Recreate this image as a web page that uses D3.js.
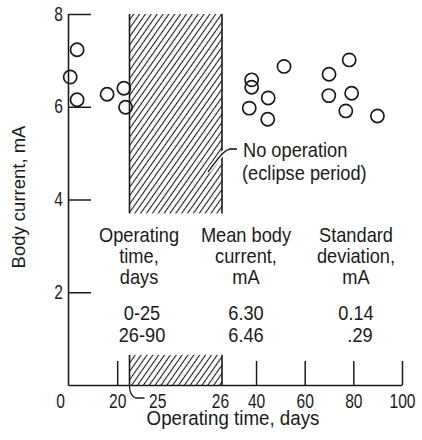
<!DOCTYPE html>
<html>
<head>
<meta charset="utf-8">
<script src="https://cdn.jsdelivr.net/npm/d3@7"></script>
<style>
  html, body { margin: 0; padding: 0; background: #fff; }
  svg { display: block; }
  text { font-family: "Liberation Sans", Arial, sans-serif; fill: #1b1b1b; }
</style>
</head>
<body>
<svg id="chart" width="422" height="440"></svg>
<script>
// Operating time (days) of each body-current reading
const days = [0.9, 3.7, 3.7, 15.9, 22.7, 23.4,
              37.2, 38.2, 38.2, 44.8, 45.0, 51.5,
              69.9, 70.0, 76.9, 78.3, 79.3, 89.9];
// Body current (mA) of each reading
const current = [6.64, 7.23, 6.15, 6.27, 6.40, 5.99,
                 5.97, 6.58, 6.42, 5.73, 6.19, 6.87,
                 6.24, 6.70, 5.91, 7.01, 6.29, 5.80];

// Eclipse period with no operation (days)
const eclipse = [25, 26];

// Axis ticks
const xTicks = [0, 20, 25, 26, 40, 60, 80, 100];
const yTicks = [2, 4, 6, 8];

// Summary table
const tableHeaders = [["Operating", "time,", "days"],
                      ["Mean body", "current,", "mA"],
                      ["Standard", "deviation,", "mA"]];
const periods = ["0-25", "26-90"];
const meanCurrent = [6.30, 6.46];
const stdDev = [0.14, 0.29];

const ink = "#1b1b1b";
const svg = d3.select("#chart");

// Broken time axis: the eclipse day is stretched to show the gap
const x = d3.scaleLinear().domain([0, 25, 26, 100]).range([68, 129.5, 222, 402]);
const y = d3.scaleLinear().domain([0, 8]).range([385, 14]);

// condensed-looking text helper
function label(g, s, px, py, opt = {}) {
  const size = opt.size || 20.5, sx = opt.sx || 0.89, rot = opt.rotate || 0;
  return g.append("text")
    .attr("transform", `translate(${px},${py}) rotate(${rot}) scale(${sx},1)`)
    .attr("text-anchor", opt.anchor || "middle")
    .attr("font-size", size)
    .text(s);
}

// hatch pattern for the eclipse period
const defs = svg.append("defs");
const pat = defs.append("pattern")
  .attr("id", "hatch").attr("patternUnits", "userSpaceOnUse")
  .attr("width", 4.8).attr("height", 4.8)
  .attr("patternTransform", "rotate(35)");
pat.append("line").attr("x1", 2.4).attr("x2", 2.4).attr("y1", -1).attr("y2", 5.8)
  .attr("stroke", ink).attr("stroke-width", 1.1);

const bands = [[3.7, 8], [0, 0.65]];
const bandG = svg.append("g");
bands.forEach(([lo, hi]) => {
  bandG.append("rect")
    .attr("x", x(eclipse[0])).attr("width", x(eclipse[1]) - x(eclipse[0]))
    .attr("y", y(hi)).attr("height", y(lo) - y(hi))
    .attr("fill", "url(#hatch)");
  eclipse.forEach(d => {
    bandG.append("line")
      .attr("x1", x(d)).attr("x2", x(d)).attr("y1", y(hi)).attr("y2", y(lo))
      .attr("stroke", ink).attr("stroke-width", 1.6);
  });
});

// x axis: ticks point up into the plot, labels below
const xAxis = svg.append("g")
  .attr("transform", `translate(0,${y(0)})`)
  .call(d3.axisBottom(x).tickValues(xTicks).tickSizeInner(-24).tickSizeOuter(0)
    .tickPadding(9).tickFormat(d3.format("d")));
xAxis.select(".domain").attr("stroke", ink).attr("stroke-width", 1.6);
xAxis.selectAll(".tick line").attr("stroke", ink).attr("stroke-width", 1.5)
  .attr("display", d => (d === 0 || d === 25 || d === 26) ? "none" : null);
xAxis.selectAll(".tick text")
  .attr("font-size", 19.5).attr("fill", ink)
  .attr("font-family", "Liberation Sans, Arial, sans-serif")
  .attr("text-anchor", d => d === 25 ? "start" : "middle")
  .attr("transform", d => {
    const shift = d === 0 ? -8 : d === 25 ? 19 : d === 26 ? -2 : 0;
    return `translate(${shift},0) scale(0.8,1)`;
  });
// leader from the start of the eclipse to its "25" label
xAxis.append("path")
  .attr("d", `M${x(25)},1 C${x(25)},7 ${x(25) + 2},11 ${x(25) + 6},13 L${x(25) + 15},13`)
  .attr("fill", "none").attr("stroke", ink).attr("stroke-width", 1.3);

// y axis: ticks to the right, labels on the left
const yAxis = svg.append("g")
  .attr("transform", `translate(${x(0)},0)`)
  .call(d3.axisLeft(y).tickValues(yTicks).tickSizeInner(-23).tickSizeOuter(0)
    .tickPadding(5).tickFormat(d3.format("d")));
yAxis.select(".domain").attr("stroke", ink).attr("stroke-width", 1.6);
yAxis.selectAll(".tick line").attr("stroke", ink).attr("stroke-width", 1.5);
yAxis.selectAll(".tick text")
  .attr("font-size", 19.5).attr("fill", ink)
  .attr("font-family", "Liberation Sans, Arial, sans-serif")
  .attr("transform", "scale(0.8,1)")
  .attr("x", -5 / 0.8);

// data points
svg.append("g").selectAll("circle")
  .data(days.map((d, i) => [d, current[i]]))
  .join("circle")
  .attr("cx", d => x(d[0])).attr("cy", d => y(d[1])).attr("r", 6.6)
  .attr("fill", "none").attr("stroke", ink).attr("stroke-width", 1.7);

// annotation of the eclipse gap
const ann = svg.append("g");
const lead = "M229,149.5 C224,150.5 219,157 208,172";
ann.append("path").attr("d", lead).attr("fill", "none")
  .attr("stroke", "#fff").attr("stroke-width", 4.5);
ann.append("path").attr("d", lead).attr("fill", "none")
  .attr("stroke", ink).attr("stroke-width", 1.3);
ann.append("line").attr("x1", 229).attr("x2", 237).attr("y1", 149).attr("y2", 149)
  .attr("stroke", ink).attr("stroke-width", 1.6);
label(ann, "No operation", 243, 157, { anchor: "start" });
label(ann, "(eclipse period)", 242, 180, { anchor: "start" });

// summary table
const tbl = svg.append("g");
const colX = [139, 246, 356];
const headY = [242, 263, 284];
tableHeaders.forEach((lines, c) => {
  lines.forEach((s, r) => label(tbl, s, colX[c], headY[r]));
});
const rowY = [320, 342];
const f2 = d3.format(".2f");
periods.forEach((p, i) => {
  label(tbl, p, colX[0] + 3, rowY[i]);
  label(tbl, f2(meanCurrent[i]), colX[1], rowY[i]);
  const sd = i === 0 ? f2(stdDev[i]) : f2(stdDev[i]).replace(/^0/, "");
  label(tbl, sd, colX[2] + (i === 0 ? 0 : 4), rowY[i]);
});

// axis titles
label(svg, "Operating time, days", 233, 425, { sx: 0.915 });
label(svg, "Body current, mA", 25, 197, { size: 18.5, sx: 1, rotate: -90 });
</script>
</body>
</html>
